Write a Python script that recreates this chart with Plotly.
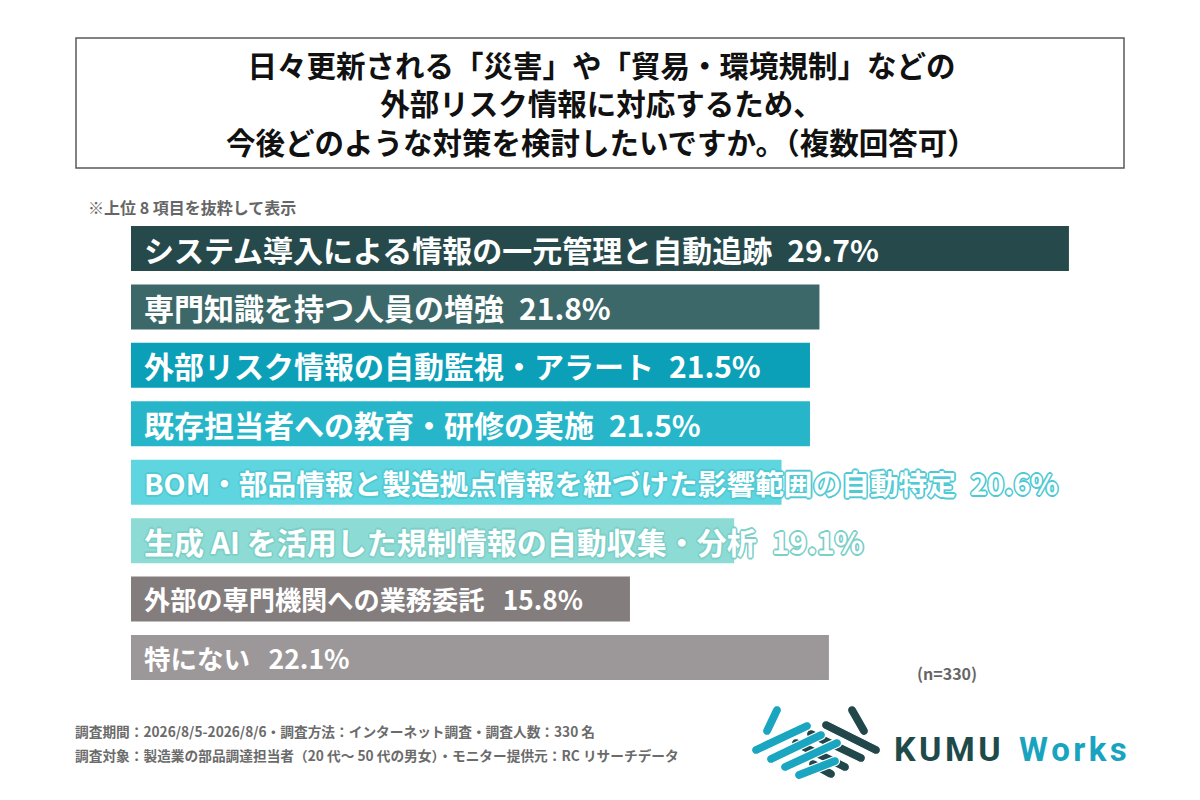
import math
import plotly.graph_objects as go

# ---- data ----
labels = [
    "システム導入による情報の一元管理と自動追跡",
    "専門知識を持つ人員の増強",
    "外部リスク情報の自動監視・アラート",
    "既存担当者への教育・研修の実施",
    "BOM・部品情報と製造拠点情報を紐づけた影響範囲の自動特定",
    "生成 AI を活用した規制情報の自動収集・分析",
    "外部の専門機関への業務委託",
    "特にない",
]
values = [29.7, 21.8, 21.5, 21.5, 20.6, 19.1, 15.8, 22.1]
colors = ["#264a4b", "#3d6869", "#0b9fb8", "#27b6c9", "#5fd5df", "#8cdbd4", "#847d7e", "#9c9899"]
label_sizes = [30, 30, 30, 30, 28.7, 30, 26.2, 26.5]
title_lines = [
    "日々更新される「災害」や「貿易・環境規制」などの",
    "外部リスク情報に対応するため、",
    "今後どのような対策を検討したいですか。（複数回答可）",
]
note_text = "※上位 8 項目を抜粋して表示"
n_text = "(n=330)"
footer_lines = [
    "調査期間：2026/8/5-2026/8/6・調査方法：インターネット調査・調査人数：330 名",
    "調査対象：製造業の部品調達担当者（20 代～ 50 代の男女）・モニター提供元：RC リサーチデータ",
]

OFF = 8  # page body margin
W, H = 1200 - OFF, 800 - OFF
FONT = "Noto Sans CJK JP"


def px(x):
    return (x - OFF) / W


def py(y):
    return 1 - (y - OFF) / H


def capsule(x1, y1, x2, y2, w, n=10):
    dx, dy = x2 - x1, y2 - y1
    L = math.hypot(dx, dy)
    ux, uy = dx / L, dy / L
    nx, ny = -uy, ux
    r = w / 2
    base = math.atan2(ny, nx)
    pts = []
    for i in range(n + 1):
        a = base - math.pi * i / n
        pts.append((x2 + r * math.cos(a), y2 + r * math.sin(a)))
    for i in range(n + 1):
        a = base + math.pi - math.pi * i / n
        pts.append((x1 + r * math.cos(a), y1 + r * math.sin(a)))
    return "M " + " L ".join(f"{px(a):.5f},{py(b):.5f}" for a, b in pts) + " Z"


fig = go.Figure()
fig.add_trace(go.Bar(
    x=values, y=labels, orientation="h",
    marker=dict(color=colors, line=dict(width=0)),
    hoverinfo="skip", showlegend=False,
))

x_end = 30.0
fig.update_layout(
    width=W, height=H,
    margin=dict(l=0, r=0, t=0, b=0),
    paper_bgcolor="white", plot_bgcolor="white",
    bargap=0.23,
    xaxis=dict(domain=[px(131), px(131 + x_end * 31.58)], range=[0, x_end],
               visible=False, showgrid=False, zeroline=False, fixedrange=True),
    yaxis=dict(domain=[py(686.7), py(219.3)], autorange="reversed",
               visible=False, showgrid=False, zeroline=False, fixedrange=True),
    font=dict(family=FONT),
)

ann = []
shapes = []

# title box
shapes.append(dict(type="rect", xref="paper", yref="paper",
                   x0=px(76), x1=px(1124), y0=py(168), y1=py(38),
                   line=dict(color="#5a5a5a", width=1.5), fillcolor="rgba(0,0,0,0)"))
ann.append(dict(text="<br>".join(f"<b>{t}</b>" for t in title_lines),
                xref="paper", yref="paper", x=px(601), y=py(103),
                xanchor="center", yanchor="middle", showarrow=False, align="center",
                font=dict(family=FONT, size=29.5, color="#111111")))

# note
ann.append(dict(text=f"<b>{note_text}</b>", xref="paper", yref="paper",
                x=px(86), y=py(207), xanchor="left", yanchor="middle", showarrow=False,
                font=dict(family=FONT, size=16, color="#666666")))

# bar labels
for lab, v, c, fs in zip(labels, values, colors, label_sizes):
    f = dict(family=FONT, size=fs, color="white")
    if c in ("#5fd5df", "#8cdbd4"):
        oc = "#4fc9d4" if c == "#5fd5df" else "#7ccfc8"
        s = 1.6
        f["shadow"] = ", ".join(f"{a}px {b}px 0 {oc}" for a, b in
                                [(s, 0), (-s, 0), (0, s), (0, -s), (1.1, 1.1), (-1.1, 1.1), (1.1, -1.1), (-1.1, -1.1)])
    gap = "\u2002" if fs >= 28 else "\u2002\u2009"
    ann.append(dict(text=f"<b>{lab}{gap}{v}%</b>", xref="x", yref="y", x=0, y=lab,
                    xanchor="left", yanchor="middle", xshift=11, showarrow=False, font=f))

# n
ann.append(dict(text=f"<b>{n_text}</b>", xref="paper", yref="paper",
                x=px(947), y=py(673), xanchor="center", yanchor="middle", showarrow=False,
                font=dict(family=FONT, size=16, color="#666666")))

# footer
for i, t in enumerate(footer_lines):
    ann.append(dict(text=f"<b>{t}</b>", xref="paper", yref="paper",
                    x=px(73), y=py(731 + i * 24), xanchor="left", yanchor="middle", showarrow=False,
                    font=dict(family=FONT, size=13.7, color="#6b6b6b")))

# logo icon
dark = "#22474a"
cyan = "#1aa6c0"
dark_strokes = [(852, 710, 864, 731), (826, 725, 876, 750), (811, 734, 861, 758),
                (796, 743, 845, 767), (813, 764, 831, 774)]
cyan_strokes = [(777, 710, 767, 731), (756, 750, 807, 726), (771, 759, 821, 735),
                (785, 767, 837, 743), (799, 775, 835, 761)]
for (a, b, c2, d) in dark_strokes:
    shapes.append(dict(type="path", xref="paper", yref="paper", path=capsule(a, b, c2, d, 9),
                       fillcolor=dark, line=dict(width=1.2, color="white")))
for (a, b, c2, d) in cyan_strokes:
    shapes.append(dict(type="path", xref="paper", yref="paper", path=capsule(a, b, c2, d, 9),
                       fillcolor=cyan, line=dict(width=1.2, color="white")))

ann.append(dict(text="<b>" + "\u200a".join("KUMU") + "</b>", xref="paper", yref="paper",
                x=px(892), y=py(749), xanchor="left", yanchor="middle", showarrow=False,
                font=dict(family="Roboto", size=34, color="#1f4a4a")))
ann.append(dict(text="<b>" + "\u200a".join("Works") + "</b>", xref="paper", yref="paper",
                x=px(1017), y=py(749), xanchor="left", yanchor="middle", showarrow=False,
                font=dict(family="Roboto", size=33, color="#18a3bf")))

fig.update_layout(annotations=ann, shapes=shapes)
fig.write_html("out.html")
